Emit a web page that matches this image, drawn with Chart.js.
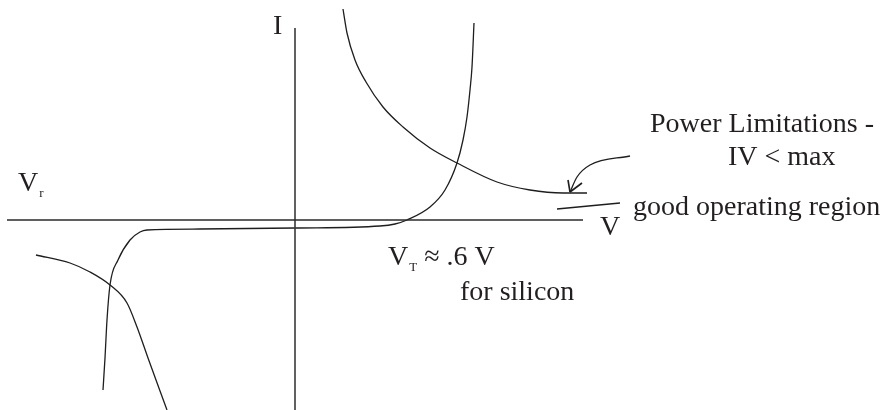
<!DOCTYPE html>
<html>
<head>
<meta charset="utf-8">
<script src="https://cdn.jsdelivr.net/npm/chart.js@4"></script>
<style>
  html, body { margin: 0; padding: 0; background: #fff; }
  canvas { display: block; }
</style>
</head>
<body>
<canvas id="diode" width="893" height="410"></canvas>
<script>
// diode I-V sketch, origin at the axis crossing (x right = V, y up = I)

// forward / reverse characteristic
const diodeV = [-192, -190, -188, -185, -177, -165, -155, -148, -95, 0, 85, 100, 112, 135, 150, 162, 168, 172, 175, 177, 179];
const diodeI = [-170, -138, -100, -65, -40, -20, -12, -10, -9, -8, -6, -4, 0, 13, 30, 57, 80, 103, 130, 153, 197];

// power limit IV = max, first quadrant branch
const powerV = [48, 52, 60, 71, 88, 108, 135, 162, 202, 235, 268, 292];
const powerI = [211, 187, 160, 138, 113, 93, 72, 57, 38, 30, 27, 27];

// power limit, third quadrant branch
const powerNegV = [-259, -225, -205, -185, -168, -158, -147, -128];
const powerNegI = [-35, -43, -52, -65, -83, -107, -138, -190];

// axes
const axisV = [[-288, 0], [288, 0]];
const axisI = [[0, 192], [0, -190]];

// pointer from the caption to the limit curve
const arrowV = [275, 282, 295, 335];
const arrowI = [28, 43, 55, 64];
const arrowHeadA = [[273, 40], [275, 28]];
const arrowHeadB = [[287, 37], [275, 28]];

// short stroke marking the good operating region
const goodRegion = [[262, 11], [325, 17]];

const labels = [
  { text: 'I', x: -22, y: 186 },
  { text: 'V', sub: 'r', x: -277, y: 29 },
  { text: 'V', x: 305, y: -15 },
  { text: 'V', sub: 'T', after: ' \u2248 .6 V', x: 93, y: -45 },
  { text: 'for silicon', x: 165, y: -80 },
  { text: 'Power Limitations -', x: 355, y: 88 },
  { text: 'IV < max', x: 433, y: 55 },
  { text: 'good operating region', x: 338, y: 5 }
];

const zip = (xs, ys) => xs.map((x, i) => ({ x: x, y: ys[i] }));
const pts = arr => arr.map(p => ({ x: p[0], y: p[1] }));

function line(data, opts) {
  return Object.assign({
    data: data,
    showLine: true,
    pointRadius: 0,
    borderColor: '#1e1e1e',
    borderWidth: 1.3,
    tension: 0,
    fill: false
  }, opts || {});
}

const smooth = { cubicInterpolationMode: 'monotone' };

const textPlugin = {
  id: 'diagramText',
  afterDatasetsDraw(chart) {
    const c = chart.ctx;
    const xs = chart.scales.x, ys = chart.scales.y;
    c.save();
    c.fillStyle = '#231f20';
    c.textBaseline = 'alphabetic';
    c.textAlign = 'left';
    labels.forEach(l => {
      let px = xs.getPixelForValue(l.x);
      const py = ys.getPixelForValue(l.y);
      c.font = '28px "Liberation Serif", "Times New Roman", serif';
      c.fillText(l.text, px, py);
      px += c.measureText(l.text).width;
      if (l.sub) {
        c.font = '13px "Liberation Serif", "Times New Roman", serif';
        c.fillText(l.sub, px + 1, py + 6);
        px += c.measureText(l.sub).width + 1;
      }
      if (l.after) {
        c.font = '28px "Liberation Serif", "Times New Roman", serif';
        c.fillText(l.after, px, py);
      }
    });
    c.restore();
  }
};

new Chart(document.getElementById('diode'), {
  type: 'scatter',
  data: {
    datasets: [
      line(pts(axisV), { borderColor: '#2a2a2a', borderWidth: 1.5 }),
      line(pts(axisI), { borderColor: '#3a3a3a', borderWidth: 1.6 }),
      line(zip(diodeV, diodeI), smooth),
      line(zip(powerV, powerI), smooth),
      line(zip(powerNegV, powerNegI), smooth),
      line(zip(arrowV, arrowI), smooth),
      line(pts(arrowHeadA), { borderWidth: 1.6 }),
      line(pts(arrowHeadB), { borderWidth: 1.6 }),
      line(pts(goodRegion))
    ]
  },
  options: {
    responsive: false,
    animation: false,
    layout: { padding: 0 },
    plugins: { legend: { display: false }, tooltip: { enabled: false } },
    scales: {
      x: { type: 'linear', min: -295, max: 598, display: false },
      y: { type: 'linear', min: -190, max: 220, display: false }
    }
  },
  plugins: [textPlugin]
});
</script>
</body>
</html>
